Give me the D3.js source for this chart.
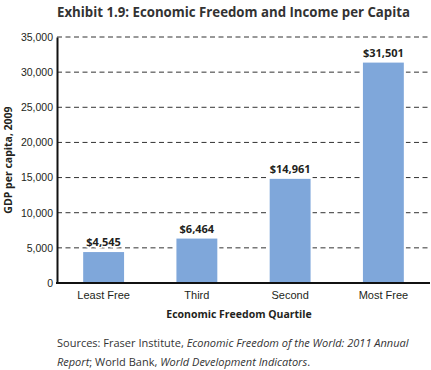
<!DOCTYPE html>
<html>
<head>
<meta charset="utf-8">
<script src="https://cdn.jsdelivr.net/npm/d3@7"></script>
<style>
  body { margin: 0; background: #fff; }
  svg { display: block; font-family: "Open Sans", "Noto Sans", sans-serif; }
</style>
</head>
<body>
<svg id="chart" width="431" height="370"></svg>
<script>
const categories = ['Least Free', 'Third', 'Second', 'Most Free'];
const gdpValues = [4545, 6464, 14961, 31501];
const yTicks = [0, 5000, 10000, 15000, 20000, 25000, 30000, 35000];

const BAR_COLOUR = '#7fa7da';
const TEXT_COLOUR = '#231f20';

const margin = { top: 37, right: 1, bottom: 87, left: 57 };
const width = 431 - margin.left - margin.right;
const height = 370 - margin.top - margin.bottom;

const svg = d3.select('#chart');
const g = svg.append('g').attr('transform', `translate(${margin.left},${margin.top})`);

const x = d3.scaleBand().domain(categories).range([0, width]).paddingInner(0.54).paddingOuter(0.27);
const y = d3.scaleLinear().domain([0, 35000]).range([height, 0]);

// dashed gridlines
g.append('g')
    .selectAll('line')
    .data(yTicks.filter(d => d > 0))
    .join('line')
    .attr('x1', 0)
    .attr('x2', width)
    .attr('y1', d => y(d))
    .attr('y2', d => y(d))
    .attr('stroke', '#333')
    .attr('stroke-width', 1)
    .attr('stroke-dasharray', '5,3.5');

// bars
g.append('g')
    .selectAll('rect')
    .data(gdpValues)
    .join('rect')
    .attr('x', (d, i) => x(categories[i]))
    .attr('y', d => y(d))
    .attr('width', x.bandwidth())
    .attr('height', d => height - y(d))
    .attr('fill', BAR_COLOUR)
    .attr('stroke', '#fff')
    .attr('stroke-width', 2);

// value labels
g.append('g')
    .selectAll('text')
    .data(gdpValues)
    .join('text')
    .attr('x', (d, i) => x(categories[i]) + x.bandwidth() / 2)
    .attr('y', d => y(d) - 5)
    .attr('text-anchor', 'middle')
    .attr('font-size', 11)
    .attr('font-weight', 'bold')
    .attr('fill', TEXT_COLOUR)
    .attr('stroke', '#fff')
    .attr('stroke-width', 3)
    .attr('paint-order', 'stroke')
    .text(d => '$' + d3.format(',')(d));

// y axis
const yAxis = g.append('g')
    .call(d3.axisLeft(y).tickValues(yTicks).tickFormat(d3.format(',')).tickSize(0).tickPadding(4));
yAxis.select('.domain').attr('stroke', '#111').attr('stroke-width', 2);
yAxis.selectAll('text').attr('font-size', 10.5).attr('fill', TEXT_COLOUR).attr('font-family', 'inherit');

// x axis
const xAxis = g.append('g')
    .attr('transform', `translate(0,${height})`)
    .call(d3.axisBottom(x).tickSize(0).tickPadding(8));
xAxis.select('.domain').attr('stroke', '#111').attr('stroke-width', 2).attr('d', `M-1,0H${width}`);
xAxis.selectAll('text').attr('font-size', 11).attr('fill', TEXT_COLOUR).attr('font-family', 'inherit');

// title
svg.append('text')
    .attr('x', 57)
    .attr('y', 17)
    .attr('font-size', 13.5)
    .attr('font-weight', 'bold')
    .attr('fill', '#333')
    .attr('textLength', 353)
    .attr('lengthAdjust', 'spacingAndGlyphs')
    .text('Exhibit 1.9: Economic Freedom and Income per Capita');

// axis titles
svg.append('text')
    .attr('x', 239)
    .attr('y', 318)
    .attr('text-anchor', 'middle')
    .attr('font-size', 10.5)
    .attr('font-weight', 'bold')
    .attr('fill', TEXT_COLOUR)
    .text('Economic Freedom Quartile');

svg.append('text')
    .attr('transform', 'translate(12,160) rotate(-90)')
    .attr('text-anchor', 'middle')
    .attr('font-size', 10.5)
    .attr('font-weight', 'bold')
    .attr('fill', TEXT_COLOUR)
    .text('GDP per capita, 2009');

// sources
const src = svg.append('text')
    .attr('x', 57)
    .attr('y', 347)
    .attr('font-size', 11)
    .attr('fill', '#333');
src.append('tspan').text('Sources: Fraser Institute, ');
src.append('tspan').attr('font-style', 'italic').text('Economic Freedom of the World: 2011 Annual');

const src2 = svg.append('text')
    .attr('x', 57)
    .attr('y', 366)
    .attr('font-size', 11)
    .attr('fill', '#333');
src2.append('tspan').attr('font-style', 'italic').text('Report');
src2.append('tspan').text('; World Bank, ');
src2.append('tspan').attr('font-style', 'italic').text('World Development Indicators');
src2.append('tspan').text('.');
</script>
</body>
</html>
